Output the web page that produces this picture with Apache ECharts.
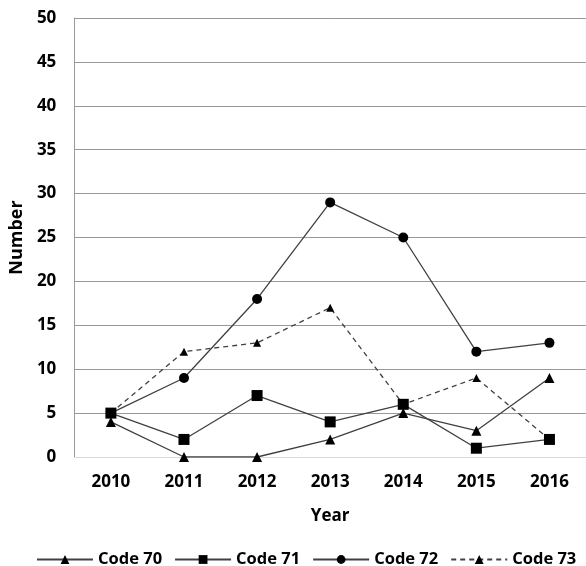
<!DOCTYPE html>
<html><head><meta charset="utf-8">
<script src="https://cdn.jsdelivr.net/npm/echarts@6/dist/echarts.min.js"></script>
<style>html,body{margin:0;padding:0;background:#fff}#c{width:586px;height:566px}</style>
</head><body><div id="c"></div>
<script>
const years = ['2010','2011','2012','2013','2014','2015','2016'];
const code70 = [4, 0, 0, 2, 5, 3, 9];
const code71 = [5, 2, 7, 4, 6, 1, 2];
const code72 = [5, 9, 18, 29, 25, 12, 13];
const code73 = [5, 12, 13, 17, 6, 9, 2];

const FONT = 'Open Sans';
const lineColor = '#404040';
function ser(name, data, symbol, size, dashed) {
  return {
    name, type: 'line', data, symbol, symbolSize: size,
    itemStyle: { color: '#000' },
    lineStyle: { color: lineColor, width: 1.3, type: dashed ? [5, 4] : 'solid' },
    emphasis: { disabled: true }, animation: false
  };
}
const chart = echarts.init(document.getElementById('c'));
chart.setOption({
  animation: false,
  grid: { left: 71, right: 0, top: 18, bottom: 109, containLabel: false },
  legend: {
    top: 546, left: 31, itemWidth: 56, itemHeight: 11, itemGap: 12,
    textStyle: { fontFamily: FONT, fontWeight: 'bold', fontSize: 16.5, color: '#000' },
    data: ['Code 70', 'Code 71', 'Code 72', 'Code 73']
  },
  xAxis: {
    type: 'category', data: years, boundaryGap: true,
    name: 'Year', nameLocation: 'middle', nameGap: 51,
    nameTextStyle: { fontFamily: FONT, fontWeight: 'bold', fontSize: 17, color: '#000' },
    axisLine: { lineStyle: { color: '#d9d9d9' } },
    axisTick: { show: false },
    axisLabel: { margin: 17, fontFamily: FONT, fontWeight: 'bold', fontSize: 17, color: '#000' }
  },
  yAxis: {
    type: 'value', min: 0, max: 50, interval: 5,
    name: 'Number', nameLocation: 'middle', nameGap: 46, nameRotate: 90,
    nameTextStyle: { fontFamily: FONT, fontWeight: 'bold', fontSize: 18, color: '#000' },
    axisLine: { show: true, lineStyle: { color: '#999' } },
    axisTick: { show: false },
    axisLabel: { margin: 18, fontFamily: FONT, fontWeight: 'bold', fontSize: 17, color: '#000' },
    splitLine: { lineStyle: { color: ['#d9d9d9','#999','#999','#999','#999','#999','#999','#999','#999','#999','#999'], width: 1 } }
  },
  series: [
    ser('Code 70', code70, 'triangle', 10, false),
    ser('Code 71', code71, 'rect', 11, false),
    ser('Code 72', code72, 'circle', 10, false),
    ser('Code 73', code73, 'triangle', 8, true)
  ]
});
</script></body></html>
